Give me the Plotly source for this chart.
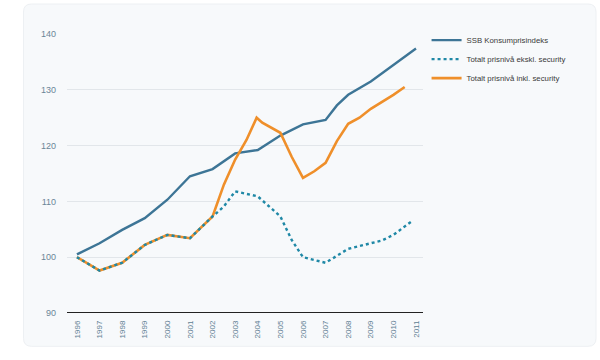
import plotly.graph_objects as go

ssb_x = [1996, 1997, 1998, 1999, 2000, 2000.5, 2001, 2002, 2002.5, 2003, 2004, 2004.5, 2005, 2006, 2007, 2007.5, 2008, 2009, 2010, 2011]
ssb_y = [100.5, 102.5, 104.9, 107.0, 110.3, 112.4, 114.5, 115.8, 117.2, 118.6, 119.2, 120.5, 121.8, 123.8, 124.6, 127.2, 129.1, 131.5, 134.5, 137.4]

inkl_x = [1996, 1997, 1998, 1999, 2000, 2001, 2002, 2002.5, 2003, 2003.5, 2003.95, 2004.2, 2005, 2005.5, 2006, 2006.5, 2007, 2007.5, 2008, 2008.5, 2009, 2009.5, 2010, 2010.5]
inkl_y = [100.0, 97.6, 99.0, 102.2, 104.0, 103.4, 107.3, 113.0, 117.5, 121.0, 125.0, 124.1, 122.3, 118.0, 114.2, 115.4, 116.9, 120.8, 123.9, 125.0, 126.6, 127.8, 129.1, 130.5]

ekskl_x = [1996, 1997, 1998, 1999, 2000, 2001, 2002, 2002.5, 2003, 2004, 2004.5, 2005, 2005.5, 2006, 2007, 2008, 2009, 2009.5, 2010, 2010.8]
ekskl_y = [100.0, 97.6, 99.0, 102.2, 104.0, 103.4, 107.3, 109.1, 111.8, 110.9, 109.1, 107.3, 103.1, 100.0, 99.0, 101.5, 102.5, 103.0, 104.0, 106.4]

years = list(range(1996, 2012))
y_ticks = [90, 100, 110, 120, 130, 140]

fig = go.Figure()
fig.add_trace(go.Scatter(x=ssb_x, y=ssb_y, mode="lines", name="SSB Konsumprisindeks",
                         line=dict(color="#3d7596", width=2.4), legendrank=1))
fig.add_trace(go.Scatter(x=inkl_x, y=inkl_y, mode="lines", name="Totalt prisnivå inkl. security",
                         line=dict(color="#ef8f2a", width=2.6), legendrank=3))
fig.add_trace(go.Scatter(x=ekskl_x, y=ekskl_y, mode="lines", name="Totalt prisnivå ekskl. security",
                         line=dict(color="#1f88a6", width=2.4, dash="dot"), legendrank=2))

# rounded background card
fig.add_shape(type="path", xref="paper", yref="paper", layer="below",
              path=("M -0.0997 -0.1194 L 1.4635 -0.1194 Q 1.4860 -0.1194 1.4860 -0.0907 "
                    "L 1.4860 1.0789 Q 1.4860 1.1075 1.4635 1.1075 L -0.0997 1.1075 "
                    "Q -0.1222 1.1075 -0.1222 1.0789 L -0.1222 -0.0907 Q -0.1222 -0.1194 -0.0997 -0.1194 Z"),
              fillcolor="#f7f9fb", line=dict(color="#edf0f3", width=1))

fig.update_layout(
    width=600, height=360,
    margin=dict(l=67, r=177, t=34, b=47),
    paper_bgcolor="#ffffff", plot_bgcolor="rgba(0,0,0,0)",
    font=dict(family="Liberation Sans, Arial, sans-serif", color="#5d7d92"),
    showlegend=True,
    legend=dict(x=1.01, y=1.03, xanchor="left", yanchor="top",
                font=dict(size=7.8, color="#3a3a3a"), bgcolor="rgba(0,0,0,0)",
                tracegroupgap=0, itemwidth=30),
    xaxis=dict(range=[1995.56, 2011.31], tickvals=years, ticktext=[str(y) for y in years],
               tickangle=-90, tickfont=dict(size=8, color="#5d7d92"), showgrid=False,
               zeroline=False, showline=False, ticks="", ticklabelstandoff=5),
    yaxis=dict(range=[90, 140], tickvals=y_ticks, tickfont=dict(size=9, color="#6b8597"),
               showgrid=True, gridcolor="#e2e6ea", gridwidth=1, zeroline=False,
               showline=False, ticks="", ticklabelstandoff=10),
)
fig.add_shape(type="line", xref="paper", yref="y", x0=0, x1=1, y0=90, y1=90,
              line=dict(color="#222222", width=2))

fig.write_html("out.html", config={"displayModeBar": False},
               post_script="document.body.style.margin='0';")
